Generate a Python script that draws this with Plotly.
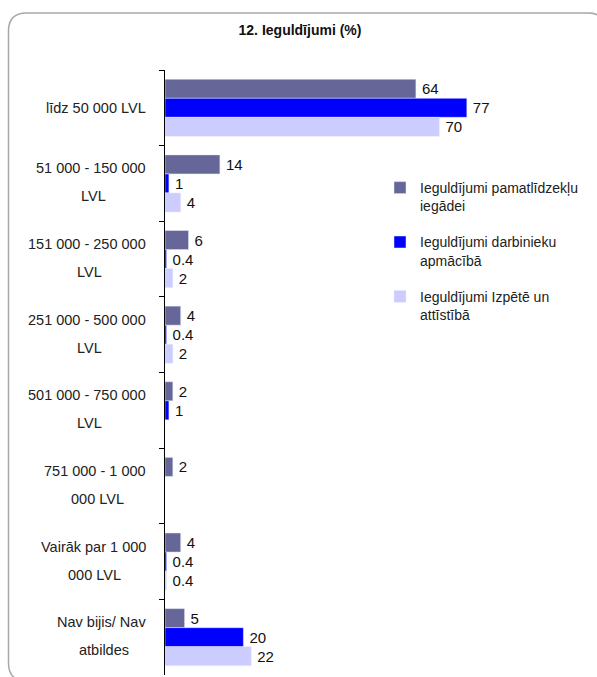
import plotly.graph_objects as go

# data
categories = ["līdz 50 000 LVL", "51 000 - 150 000 LVL", "151 000 - 250 000 LVL",
              "251 000 - 500 000 LVL", "501 000 - 750 000 LVL", "751 000 - 1 000 000 LVL",
              "Vairāk par 1 000 000 LVL", "Nav bijis/ Nav atbildes"]
label_lines = [["līdz 50 000 LVL"], ["51 000 - 150 000", "LVL"], ["151 000 - 250 000", "LVL"],
               ["251 000 - 500 000", "LVL"], ["501 000 - 750 000", "LVL"], ["751 000 - 1 000", "000 LVL"],
               ["Vairāk par 1 000", "000 LVL"], ["Nav bijis/ Nav", "atbildes"]]
series_names = ["Ieguldījumi pamatlīdzekļu<br>iegādei",
                "Ieguldījumi darbinieku<br>apmācībā",
                "Ieguldījumi Izpētē un<br>attīstībā"]
pamatlidzekli = [64, 14, 6, 4, 2, 2, 4, 5]
apmaciba = [77, 1, 0.4, 0.4, 1, None, 0.4, 20]
izpete = [70, 4, 2, 2, None, None, 0.4, 22]
colors = ["#666699", "#0000FF", "#CCCCFF"]

W, H = 597, 677
L, R, T, B = 165, 40, 70, 2
FONT = "Liberation Sans, Arial, sans-serif"
LBL = 14.5


def px_x(px):
    return (px - L) / (W - L - R)


def px_y(py):
    return 1 - (py - T) / (H - T - B)


# rough Arial advance widths (em) to centre second label lines under the first
CW = {"-": .333, "/": .278, " ": .278, "L": .556, "V": .667, "N": .722, "i": .222, "ī": .278,
      "j": .222, "k": .5, "l": .222, "r": .333, "s": .5, "t": .278, "v": .5, "z": .5}


def text_w(s, size=LBL):
    return sum(CW.get(c, .556) for c in s) * size


fig = go.Figure()
for name, vals, col in zip(series_names, [pamatlidzekli, apmaciba, izpete], colors):
    fig.add_trace(go.Bar(
        y=categories, x=vals, name=name, orientation="h", marker_color=col,
        text=[f"\u2009{v:g}" if v is not None else "" for v in vals],
        textposition="outside", constraintext="none", cliponaxis=False,
        textfont=dict(size=15, color="#111111", family=FONT),
        legendgroup=name,
    ))

annotations = []
right_px = 148
for cat, lines in zip(categories, label_lines):
    lf = dict(size=LBL, color="#222222", family=FONT)
    if len(lines) == 1:
        annotations.append(dict(x=px_x(right_px), xref="paper", y=cat, yref="y", text=lines[0],
                                xanchor="right", yanchor="middle", showarrow=False, font=lf))
    else:
        w1 = text_w(lines[0])
        annotations.append(dict(x=px_x(right_px), xref="paper", y=cat, yref="y", text=lines[0],
                                xanchor="right", yanchor="middle", showarrow=False, yshift=15, font=lf))
        annotations.append(dict(x=px_x(right_px - w1 / 2), xref="paper", y=cat, yref="y", text=lines[1],
                                xanchor="center", yanchor="middle", showarrow=False, yshift=-13, font=lf))

# rounded frame around the chart (right and bottom edges run off the page)
x0, y0, x1, y1, r = px_x(8.5), px_y(13), px_x(606), px_y(681), 18
rx, ry = r / (W - L - R), r / (H - T - B)
frame = (f"M {x0},{y0 - ry} Q {x0},{y0} {x0 + rx},{y0} L {x1 - rx},{y0} Q {x1},{y0} {x1},{y0 - ry} "
         f"L {x1},{y1 + ry} Q {x1},{y1} {x1 - rx},{y1} L {x0 + rx},{y1} Q {x0},{y1} {x0},{y1 + ry} Z")

fig.update_layout(
    width=W, height=H,
    margin=dict(l=L, r=R, t=T, b=B),
    paper_bgcolor="white", plot_bgcolor="white",
    font=dict(family=FONT, size=14, color="#222222"),
    title=dict(text="<b>12. Ieguldījumi (%)</b>", x=300 / W, xref="container", xanchor="center",
               y=1 - 30 / H, yref="container", yanchor="middle",
               font=dict(size=14, family=FONT, color="#111111")),
    barmode="group", bargap=0.245, bargroupgap=0,
    showlegend=True,
    legend=dict(x=px_x(380), y=px_y(172), xanchor="left", yanchor="top",
                traceorder="grouped", tracegroupgap=15, valign="top",
                bgcolor="rgba(0,0,0,0)", font=dict(size=14, color="#222222", family=FONT)),
    annotations=annotations,
    shapes=[dict(type="path", path=frame, xref="paper", yref="paper",
                 line=dict(color="#a8a8a8", width=1.5), layer="below")],
)
fig.update_xaxes(range=[0, 100], visible=False, showgrid=False, zeroline=False)
fig.update_yaxes(type="category", autorange="reversed", showticklabels=False,
                 showline=True, linecolor="#000000", linewidth=1,
                 ticks="outside", tickson="boundaries", ticklen=5, tickcolor="#000000",
                 showgrid=False, zeroline=False)

# drop the default 8px page margin so the figure sits at the window origin
fig.write_html("out.html", config={"displayModeBar": False},
               post_script="document.body.style.margin='0';")
